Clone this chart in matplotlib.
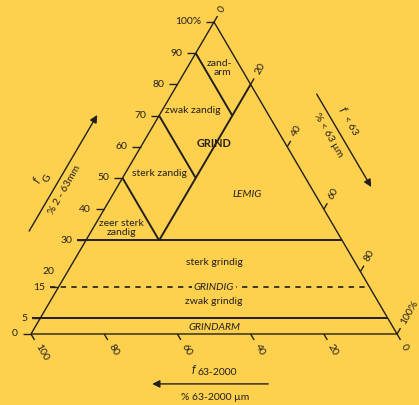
import matplotlib.pyplot as plt

plt.rcParams['font.family'] = ['Lato', 'DejaVu Sans']

GEEL = '#FDD14E'
INKT = '#231F20'

# assen: grind (links), zand 63-2000 (onder), fijn < 63 (rechts)
grind_ticks = [0, 5, 15, 30, 40, 50, 60, 70, 80, 90, 100]
grind_labels = ['0', '5', '15', '20', '30', '40', '50', '60', '70', '80', '90', '100%']
grind_label_pos = [0, 5, 15, 20, 30, 40, 50, 60, 70, 80, 90, 100]
zand_ticks = [100, 80, 60, 40, 20, 0]
zand_labels = ['100', '80', '60', '40', '20', '0']
fijn_ticks = [0, 20, 40, 60, 80, 100]
fijn_labels = ['0', '20', '40', '60', '80', '100%']

# klassegrenzen
grind_grenzen = [30, 5]      # doorgetrokken
grind_streep = 15            # gestreept
zand_grenzen = [10, 30, 50]  # zand-% binnen grind > 30
fijn_grens = 20              # fijn-% binnen grind > 30

# klassenamen (grind-%, fijn-%)
klassen = [
    ('zand-\narm', 85.3, 8.7, dict(multialignment='right')),
    ('zwak zandig', 71.5, 8.5, {}),
    ('GRIND', 60.9, 19.5, dict(fontweight='bold', fontsize=7.8)),
    ('sterk zandig', 51.6, 9.2, {}),
    ('zeer sterk\nzandig', 34.0, 7.6, dict(multialignment='center')),
    ('LEMIG', 44.6, 36.7, dict(fontstyle='italic')),
    ('sterk grindig', 22.8, 38.6, {}),
    ('zwak grindig', 10.3, 44.8, {}),
    ('GRINDARM', 2.2, 48.9, dict(fontstyle='italic')),
]


def tern(g, f):
    # grind naar boven, fijn naar rechts, zand = rest
    return f + g / 2.0, g


fig = plt.figure(figsize=(4.19, 4.05), dpi=100, facecolor=GEEL)
ax = fig.add_axes([0, 0, 1, 1])
ax.set_xlim(-8.47, 106.0)
ax.set_ylim(-22.76, 107.05)
ax.axis('off')

lijn = dict(color=INKT, solid_capstyle='butt')

# driehoek
hoeken = [tern(0, 0), tern(0, 100), tern(100, 0), tern(0, 0)]
ax.plot([p[0] for p in hoeken], [p[1] for p in hoeken], lw=1.0, **lijn)

# linker as (grind)
for g in grind_ticks:
    x0, y0 = tern(g, 0)
    ax.plot([x0 - 2.3, x0], [y0, y0], lw=1.0, **lijn)
for g, lab in zip(grind_label_pos, grind_labels):
    x0, y0 = tern(g, 0)
    ax.text(x0 - 3.6, y0, lab, ha='right', va='center', fontsize=7.5, color=INKT)

# onderste as (zand 63-2000)
for s, lab in zip(zand_ticks, zand_labels):
    x0, y0 = tern(0, 100 - s)
    ax.plot([x0, x0 + 0.95], [y0, y0 - 1.9], lw=1.0, **lijn)
    ax.text(x0 + 1.7, y0 - 3.4, lab, rotation=-60, rotation_mode='anchor',
            ha='left', va='center', fontsize=7.5, color=INKT)

# rechter as (fijn < 63)
for f, lab in zip(fijn_ticks, fijn_labels):
    x0, y0 = tern(100 - f, f)
    ax.plot([x0, x0 + 0.95], [y0, y0 + 1.9], lw=1.0, **lijn)
    ax.text(x0 + 1.7, y0 + 3.4, lab, rotation=60, rotation_mode='anchor',
            ha='left', va='center', fontsize=7.5, color=INKT)

# horizontale grenzen
for g in grind_grenzen:
    x0, _ = tern(g, 0)
    x1, _ = tern(g, 100 - g)
    ax.plot([x0 - 2.3, x1], [g, g], lw=1.4, **lijn)
x0, _ = tern(grind_streep, 0)
x1, _ = tern(grind_streep, 100 - grind_streep)
ax.plot([x0 - 2.3, x1], [grind_streep, grind_streep], lw=1.2, color=INKT,
        linestyle=(0, (3.2, 3.2)))

# zandgrenzen binnen grind
for s in zand_grenzen:
    p0 = tern(100 - s, 0)
    p1 = tern(100 - s - fijn_grens, fijn_grens)
    ax.plot([p0[0], p1[0]], [p0[1], p1[1]], lw=1.4, **lijn)
p0 = tern(30, fijn_grens)
p1 = tern(100 - fijn_grens, fijn_grens)
ax.plot([p0[0], p1[0]], [p0[1], p1[1]], lw=1.4, **lijn)

# klassenamen
for naam, g, f, extra in klassen:
    x, y = tern(g, f)
    kw = dict(ha='center', va='center', fontsize=7.5, color=INKT, linespacing=0.95)
    kw.update(extra)
    ax.text(x, y, naam, **kw)
ax.text(50.0, grind_streep, 'GRINDIG', ha='center', va='center', fontsize=7.5,
        fontstyle='italic', color=INKT,
        bbox=dict(facecolor=GEEL, edgecolor='none', pad=1.5))

# pijlen en asnamen
pijl = dict(arrowstyle='-|>', color=INKT, lw=1.0, mutation_scale=11, shrinkA=0, shrinkB=0)
a0 = tern(33.0, 0)
a1 = tern(70.2, 0)
ax.annotate('', xy=(a1[0] - 17.0, a1[1]), xytext=(a0[0] - 17.0, a0[1]), arrowprops=pijl)
ax.text(1.6, 49.2, 'f', rotation=60, ha='center', va='center',
        fontsize=8.5, fontstyle='italic', color=INKT)
ax.text(4.4, 50.0, 'G', rotation=60, ha='center', va='center',
        fontsize=7.5, color=INKT)
ax.text(9.3, 46.2, '% 2 - 63mm', rotation=60, ha='center', va='center',
        fontsize=7.5, color=INKT)

b0 = tern(76.9, 23.1)
b1 = tern(47.1, 52.9)
ax.annotate('', xy=(b1[0] + 16.5, b1[1]), xytext=(b0[0] + 16.5, b0[1]), arrowprops=pijl)
ax.text(85.1, 72.0, 'f', rotation=-60, ha='center', va='center',
        fontsize=8.5, fontstyle='italic', color=INKT)
ax.text(87.2, 66.8, '< 63', rotation=-60, ha='center', va='center',
        fontsize=7.5, color=INKT)
ax.text(81.1, 63.8, '% < 63 µm', rotation=-60, ha='center', va='center',
        fontsize=7.5, color=INKT)

ax.annotate('', xy=(33.1, -16.0), xytext=(64.8, -16.0), arrowprops=pijl)
ax.text(44.8, -11.3, 'f', ha='right', va='center', fontsize=8.5, fontstyle='italic', color=INKT)
ax.text(45.6, -12.4, '63-2000', ha='left', va='center', fontsize=7.5, color=INKT)
ax.text(50.3, -20.2, '% 63-2000 µm', ha='center', va='center', fontsize=7.5, color=INKT)

fig.savefig('out.png', dpi=100, facecolor=GEEL)
